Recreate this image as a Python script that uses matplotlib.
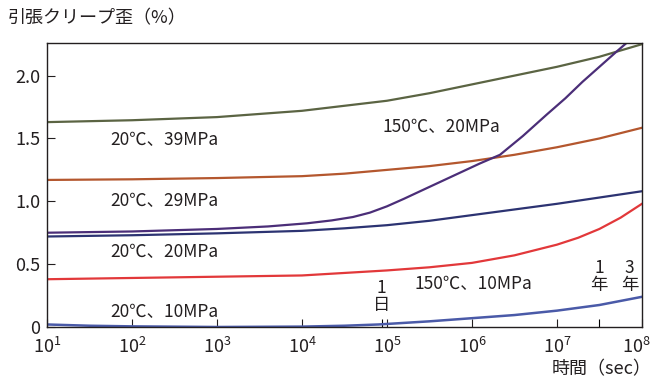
import numpy as np
import matplotlib.pyplot as plt
import matplotlib.transforms as mtransforms

plt.rcParams['font.family'] = ['Noto Sans CJK JP', 'DejaVu Sans']
plt.rcParams['mathtext.fontset'] = 'custom'
plt.rcParams['mathtext.rm'] = 'Noto Sans CJK JP'

# creep strain (%) against log10(time in sec)
t_39 = [1, 2, 3, 4, 4.5, 5, 5.5, 6, 6.5, 7, 7.5, 8]
e_39 = [1.63, 1.645, 1.67, 1.72, 1.76, 1.80, 1.86, 1.93, 2.00, 2.07, 2.15, 2.25]

t_29 = [1, 2, 3, 4, 4.5, 5, 5.5, 6, 6.5, 7, 7.5, 8]
e_29 = [1.17, 1.175, 1.185, 1.20, 1.22, 1.25, 1.28, 1.32, 1.37, 1.43, 1.50, 1.585]

t_20 = [1, 2, 3, 4, 4.5, 5, 5.5, 6, 6.5, 7, 7.5, 8]
e_20 = [0.72, 0.73, 0.745, 0.765, 0.785, 0.81, 0.845, 0.89, 0.935, 0.98, 1.03, 1.08]

t_150_20 = [1, 2, 3, 3.6, 4.06, 4.35, 4.6, 4.8, 5.0, 5.2, 5.39, 5.74, 6.09, 6.33,
            6.6, 6.88, 7.1, 7.3, 7.5, 7.7, 7.87]
e_150_20 = [0.75, 0.76, 0.78, 0.80, 0.825, 0.848, 0.875, 0.91, 0.96, 1.02, 1.08, 1.19, 1.30, 1.37,
            1.52, 1.69, 1.82, 1.95, 2.07, 2.19, 2.29]

t_150_10 = [1, 2, 3, 4, 4.5, 5, 5.5, 6, 6.5, 7, 7.25, 7.5, 7.75, 8]
e_150_10 = [0.38, 0.39, 0.40, 0.41, 0.43, 0.45, 0.475, 0.51, 0.57, 0.655, 0.71, 0.78, 0.87, 0.98]

t_10 = [1, 1.5, 2, 3, 4, 4.5, 4.9, 5.5, 6, 6.5, 7, 7.5, 8]
e_10 = [0.02, 0.01, 0.005, 0.0, 0.003, 0.01, 0.02, 0.045, 0.07, 0.095, 0.13, 0.175, 0.24]

x_ticks = [1, 2, 3, 4, 5, 6, 7, 8]
y_ticks = [0, 0.5, 1.0, 1.5, 2.0]
y_ticklabels = ['0', '0.5', '1.0', '1.5', '2.0']
day = np.log10(86400)
year = np.log10(365 * 86400)
three_years = np.log10(3 * 365 * 86400)

fig = plt.figure(figsize=(6.53, 3.80), dpi=100)
ax = fig.add_axes([0.072, 0.1395, 0.911, 0.7475])

ax.plot(t_39, e_39, color='#5b6443', lw=1.6)
ax.plot(t_29, e_29, color='#b4572e', lw=1.6)
ax.plot(t_20, e_20, color='#2c3372', lw=1.6)
ax.plot(t_150_20, e_150_20, color='#4b2e78', lw=1.6)
ax.plot(t_150_10, e_150_10, color='#e2383a', lw=1.6)
ax.plot(t_10, e_10, color='#4a5aa8', lw=1.8)

ax.set_xlim(1, 8)
ax.set_ylim(0, 2.26)

ax.set_xticks(x_ticks)
ax.set_xticklabels([f'10$^{{{k}}}$' for k in x_ticks])
ax.set_xticks([day, year], minor=True)
ax.set_yticks(y_ticks)
ax.set_yticklabels(y_ticklabels)
ax.tick_params(axis='both', direction='in', length=6, width=0.8,
               labelsize=13, colors='#231f20', pad=5)
ax.tick_params(axis='x', which='minor', direction='in', length=6, width=0.8)
ax.tick_params(axis='x', pad=7)
for s in ax.spines.values():
    s.set_color('#231f20')
    s.set_linewidth(1.0)

# pull the 10^8 label back inside the figure edge
last = ax.get_xticklabels()[-1]
last.set_transform(last.get_transform() +
                   mtransforms.ScaledTranslation(-6 / 100, 0, fig.dpi_scale_trans))

txt = dict(fontsize=12.5, color='#231f20')
ax.text(1.74, 1.49, '20℃、39MPa', va='center', **txt)
ax.text(1.74, 1.00, '20℃、29MPa', va='center', **txt)
ax.text(1.74, 0.60, '20℃、20MPa', va='center', **txt)
ax.text(1.74, 0.12, '20℃、10MPa', va='center', **txt)
ax.text(4.95, 1.59, '150℃、20MPa', va='center', **txt)
ax.text(5.33, 0.34, '150℃、10MPa', va='center', **txt)
ax.text(day, 0.245, '1\n日', ha='center', va='center', linespacing=0.95, **txt)
ax.text(year, 0.40, '1\n年', ha='center', va='center', linespacing=0.95, **txt)
ax.text(three_years - 0.12, 0.40, '3\n年', ha='center', va='center', linespacing=0.95, **txt)

fig.text(0.012, 0.952, '引張クリープ歪（%）', fontsize=13, color='#231f20', va='center')
fig.text(0.998, 0.028, '時間（sec）', fontsize=13, color='#231f20', ha='right', va='center')

fig.savefig('out.png', dpi=100)
